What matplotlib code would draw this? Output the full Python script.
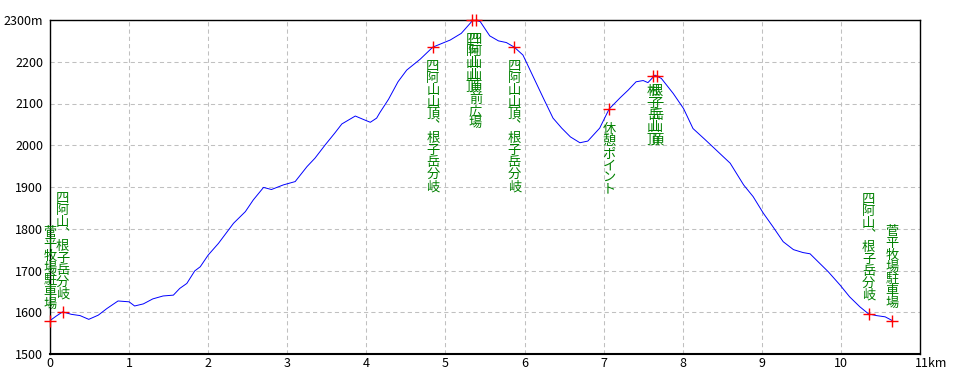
import matplotlib
matplotlib.use("Agg")
import matplotlib.pyplot as plt
import matplotlib.transforms as mtransforms

plt.rcParams['font.family'] = ['Noto Sans CJK JP', 'DejaVu Sans']

# elevation profile (distance in km, elevation in m)
dist_km = [0.00, 0.08, 0.16, 0.27, 0.38, 0.49, 0.61, 0.72, 0.86, 1.00,
           1.07, 1.18, 1.30, 1.43, 1.56, 1.64, 1.73, 1.83, 1.90, 2.00,
           2.13, 2.32, 2.47, 2.57, 2.70, 2.80, 2.95, 3.10, 3.25, 3.35,
           3.48, 3.60, 3.69, 3.86, 3.96, 4.05, 4.13, 4.17, 4.28, 4.40,
           4.51, 4.68, 4.84, 5.06, 5.20, 5.34, 5.38, 5.44, 5.56, 5.67,
           5.77, 5.87, 5.98, 6.11, 6.24, 6.36, 6.47, 6.58, 6.70, 6.80,
           6.95, 7.07, 7.21, 7.31, 7.41, 7.50, 7.56, 7.65, 7.73, 7.88,
           8.01, 8.13, 8.28, 8.37, 8.51, 8.60, 8.77, 8.89, 9.02, 9.14,
           9.27, 9.40, 9.52, 9.61, 9.69, 9.84, 9.99, 10.11, 10.24, 10.35,
           10.45, 10.56, 10.65]
elev_m = [1580, 1591, 1601, 1595, 1592, 1583, 1593, 1609, 1627, 1625,
          1615, 1620, 1632, 1639, 1641, 1657, 1669, 1699, 1709, 1737,
          1765, 1813, 1841, 1869, 1899, 1894, 1905, 1913, 1949, 1969,
          2001, 2029, 2051, 2070, 2062, 2055, 2065, 2078, 2110, 2152,
          2180, 2206, 2235, 2252, 2268, 2298, 2300, 2296, 2262, 2250,
          2246, 2235, 2216, 2164, 2112, 2065, 2041, 2020, 2006, 2010,
          2041, 2087, 2114, 2132, 2152, 2155, 2150, 2168, 2160, 2124,
          2088, 2040, 2014, 1998, 1973, 1957, 1905, 1877, 1837, 1805,
          1769, 1750, 1743, 1740, 1725, 1697, 1665, 1637, 1613, 1596,
          1592, 1589, 1580]

# waypoints
wp_km = [0.00, 0.16, 4.84, 5.34, 5.38, 5.87, 7.07, 7.63, 7.67, 10.35, 10.65]
wp_elev = [1580, 1601, 2235, 2300, 2300, 2235, 2087, 2166, 2166, 1596, 1580]
wp_names = ["菅平牧場駐車場", "四阿山、根子岳分岐", "四阿山山頂、根子岳分岐",
            "四阿山山頂", "四阿山山頂前広場", "四阿山山頂、根子岳分岐",
            "休憩ポイント", "根子岳山頂", "根子岳山頂",
            "四阿山、根子岳分岐", "菅平牧場駐車場"]
# top of each vertical label (in m)
label_top_m = [1807, 1888, 2204, 2269, 2269, 2204, 2053, 2144, 2144, 1886, 1809]

x_ticks = list(range(0, 12))
x_labels = [str(v) for v in range(0, 11)] + ["11km"]
y_ticks = list(range(1500, 2301, 100))
y_labels = [str(v) for v in range(1500, 2300, 100)] + ["2300m"]

fig = plt.figure(figsize=(9.6, 3.84), dpi=100)
ax = fig.add_axes([50 / 960, 30 / 384, 870 / 960, 334 / 384])

ax.set_xlim(0, 11)
ax.set_ylim(1500, 2300)
ax.set_xticks(x_ticks)
ax.set_xticklabels(x_labels, fontsize=9)
ax.set_yticks(y_ticks)
ax.set_yticklabels(y_labels, fontsize=9)
ax.tick_params(length=0, pad=2)
ax.tick_params(axis='y', pad=5)
lbl = ax.get_xticklabels()[-1]
lbl.set_ha('left')
lbl.set_transform(lbl.get_transform() + mtransforms.ScaledTranslation(-5 / 100, 0, fig.dpi_scale_trans))

ax.grid(True, color='#c0c0c0', linestyle=(0, (4, 3)), linewidth=0.75)
ax.set_axisbelow(True)
for side in ['left', 'top', 'right']:
    ax.spines[side].set_linewidth(1.0)
ax.spines['bottom'].set_linewidth(1.5)

# the profile line, thin like the original
ax.plot(dist_km, elev_m, color='#0000ff', linewidth=0.7, zorder=3)
ax.plot(wp_km, wp_elev, linestyle='none', marker='+', color='#ff0000',
        markersize=8.5, markeredgewidth=1.0, clip_on=False, zorder=4)

pitch = 12
for km, top, name in zip(wp_km, label_top_m, wp_names):
    for i, ch in enumerate(name.replace("、", "︑")):
        tr = mtransforms.offset_copy(ax.transData, fig=fig, x=0, y=-i * pitch, units='dots')
        ax.text(km, top, ch, transform=tr, ha='center', va='top',
                fontsize=9.5, color='#008000', zorder=5)

fig.savefig("out.png", dpi=100, facecolor='white')
